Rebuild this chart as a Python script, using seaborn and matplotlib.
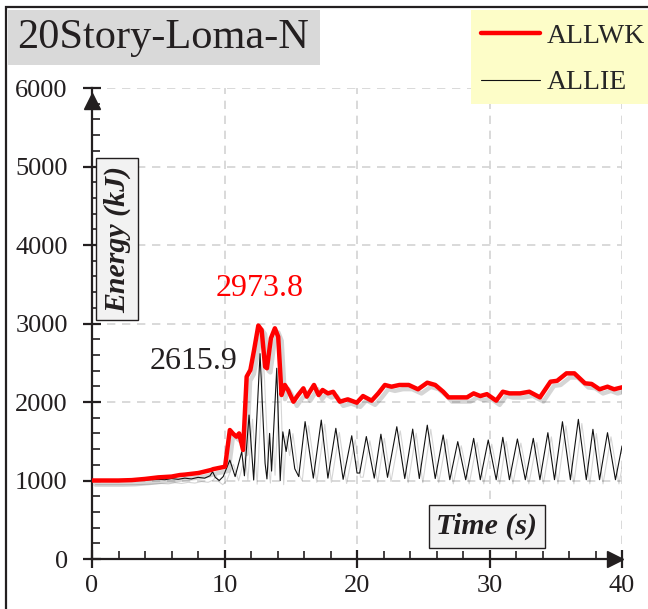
import matplotlib.pyplot as plt
import matplotlib.patheffects as pe
from matplotlib.patches import Rectangle
from matplotlib.lines import Line2D
from matplotlib.ticker import MultipleLocator
import pandas as pd
import seaborn as sns

# ALLWK (external work)
wk_time = [0, 2, 3, 4, 5, 6, 6.64, 7, 8, 8.15, 9, 9.15, 10.04, 10.4, 10.65, 10.9, 11.1, 11.4,
           11.67, 11.95, 12.23, 12.55, 12.8, 13.06, 13.2, 13.5, 13.8, 14.05, 14.3, 14.55, 14.8,
           15.2, 15.55, 15.95, 16.2, 16.75, 17.1, 17.4, 17.8, 18.2, 18.7, 19.3, 19.98, 20.45,
           21.1, 21.6, 22.1, 22.6, 23.2, 23.9, 24.6, 25.3, 25.9, 26.5, 26.9, 27.8, 28.3, 28.8,
           29.3, 29.8, 30.5, 31.0, 31.5, 32.3, 33.0, 33.8, 34.6, 35.1, 35.8, 36.4, 37.2, 37.7,
           38.3, 38.9, 39.4, 40.0]
wk_energy = [1000, 1000, 1005, 1020, 1040, 1050, 1070, 1075, 1095, 1100, 1135, 1145, 1176, 1643,
             1595, 1558, 1600, 1389, 2323, 2408, 2662, 2973.8, 2917, 2450, 2430, 2811, 2939, 2832,
             2089, 2217, 2150, 2004, 2089, 2174, 2068, 2217, 2089, 2153, 2110, 2130, 2004, 2034,
             1991, 2076, 2017, 2110, 2217, 2195, 2217, 2217, 2162, 2246, 2217, 2131, 2059, 2059,
             2059, 2110, 2076, 2100, 2017, 2131, 2110, 2110, 2131, 2059, 2259, 2270, 2365, 2365,
             2238, 2230, 2162, 2195, 2162, 2187]

# ALLIE (internal energy)
ie_time = [0, 3, 4, 5, 5.5, 6, 6.5, 7, 7.5, 8, 8.5, 8.9, 9.1, 9.3, 9.6, 9.9, 10.4, 10.8, 11.3,
           11.5, 11.85, 12.2, 12.68, 13.06, 13.2, 13.4, 13.55, 13.94, 14.2, 14.4, 14.65, 14.9,
           15.3, 15.6, 16.08, 16.7, 17.3, 17.8, 18.4, 18.95, 19.6, 20.0, 20.2, 20.7, 21.3, 21.8,
           22.3, 23.0, 23.6, 24.2, 24.7, 25.3, 25.9, 26.5, 27.0, 27.6, 28.2, 28.8, 29.3, 29.9,
           30.5, 31.0, 31.5, 32.1, 32.7, 33.3, 33.8, 34.4, 34.9, 35.5, 36.1, 36.7, 37.3, 37.8,
           38.3, 38.9, 39.5, 40.0]
ie_energy = [1000, 1000, 1005, 1015, 1010, 1025, 1015, 1030, 1020, 1040, 1030, 1060, 1112, 1040,
             1000, 1050, 1260, 1050, 1367, 1060, 1834, 1006, 2615.9, 1220, 1020, 1600, 1120, 2430,
             1000, 1620, 1370, 1650, 1150, 1050, 1750, 1030, 1770, 1030, 1665, 1015, 1570, 1095,
             1095, 1560, 1030, 1590, 1040, 1685, 1025, 1655, 1025, 1705, 1025, 1580, 1010, 1495,
             1010, 1537, 1010, 1516, 1010, 1550, 1010, 1529, 1010, 1537, 1010, 1609, 1010, 1749,
             1010, 1779, 1010, 1652, 1010, 1609, 1010, 1440]

x_ticks = [0, 10, 20, 30, 40]
y_ticks = [0, 1000, 2000, 3000, 4000, 5000, 6000]
series_names = ["ALLWK", "ALLIE"]
title = "20Story-Loma-N"
peak_wk = 2973.8
peak_ie = 2615.9

ink = "#231f20"

sns.set_theme(style="white")
plt.rcParams["font.family"] = ["Liberation Serif", "DejaVu Serif"]

fig = plt.figure(figsize=(6.48, 6.09), dpi=100)
ax = fig.add_axes([0.142, 0.0821, 0.818, 0.7734])

df_wk = pd.DataFrame({"time": wk_time, "energy": wk_energy})
df_ie = pd.DataFrame({"time": ie_time, "energy": ie_energy})

shadow = [pe.SimpleLineShadow(offset=(2.5, -3), shadow_color="k", alpha=0.18), pe.Normal()]
sns.lineplot(data=df_ie, x="time", y="energy", ax=ax, color="#111111", lw=0.8,
             path_effects=shadow, legend=False, zorder=3)
sns.lineplot(data=df_wk, x="time", y="energy", ax=ax, color="#ff0000", lw=3.2,
             path_effects=shadow, legend=False, zorder=4)

ax.set_xlim(0, 40)
ax.set_ylim(0, 6000)
ax.set_xticks(x_ticks)
ax.set_yticks(y_ticks)
ax.xaxis.set_minor_locator(MultipleLocator(2))
ax.yaxis.set_minor_locator(MultipleLocator(200))
ax.set_xlabel("")
ax.set_ylabel("")

ax.grid(True, which="major", ls=(0, (5, 4)), color="#d3d3d3", lw=1.2)
for s in ["top", "right"]:
    ax.spines[s].set_visible(False)
for s in ["left", "bottom"]:
    ax.spines[s].set_color(ink)
    ax.spines[s].set_linewidth(1.6)
ax.tick_params(which="major", direction="inout", length=13, width=1.6, color=ink,
               labelsize=19, labelcolor=ink, left=True, bottom=True)
ax.tick_params(axis="y", which="major", pad=11)
ax.tick_params(axis="x", which="major", pad=5)
ax.tick_params(which="minor", direction="in", length=6, width=1.2, color=ink, left=True, bottom=True)

# arrow heads at the axis ends
ax.plot(39.45, 0, marker=">", color=ink, ms=11, clip_on=False, zorder=6)
ax.plot(0, 5830, marker="^", color=ink, ms=11, clip_on=False, zorder=6)

box = dict(boxstyle="square,pad=0.25", facecolor="#f2f2f2", edgecolor=ink, lw=1)
ax.text(1.9, 4076, "Energy (kJ)", rotation=90, ha="center", va="center", fontsize=21.5,
        fontweight="bold", fontstyle="italic", color=ink, bbox=box, zorder=5)
ax.text(29.8, 414, "Time (s)", ha="center", va="center", fontsize=21.5,
        fontweight="bold", fontstyle="italic", color=ink, bbox=box, zorder=5)

ax.text(12.65, 3443, f"{peak_wk}", ha="center", va="center", fontsize=23, color="#ff0000")
ax.text(7.65, 2522, f"{peak_ie}", ha="center", va="center", fontsize=23, color=ink)

# outer frame, title box and legend panel
fig.patches.append(Rectangle((0.009, -0.1), 1.2, 1.0885, transform=fig.transFigure,
                             fill=False, edgecolor=ink, lw=1.6, zorder=0))
fig.patches.append(Rectangle((0.0123, 0.8933), 0.4815, 0.0903, transform=fig.transFigure,
                             facecolor="#d9d9d9", edgecolor="none", zorder=1))
fig.text(0.252, 0.9385, title, ha="center", va="center", fontsize=30.5, color=ink)

fig.patches.append(Rectangle((0.727, 0.829), 0.28, 0.155, transform=fig.transFigure,
                             facecolor="#fdfdc8", edgecolor="none", zorder=1))
handles = [Line2D([], [], color="#ff0000", lw=3.2), Line2D([], [], color="#111111", lw=0.8)]
fig.legend(handles, series_names, loc="upper left", bbox_to_anchor=(0.743, 0.961),
           frameon=False, fontsize=20, handlelength=2.1, handletextpad=0.25,
           labelspacing=0.75, borderaxespad=0, borderpad=0)

fig.savefig("out.png", dpi=100)
plt.close(fig)
